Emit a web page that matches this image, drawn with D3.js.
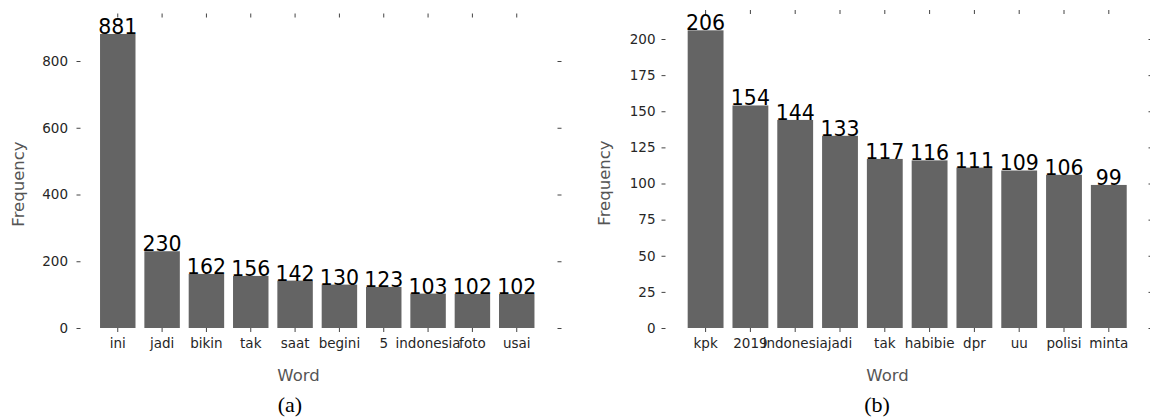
<!DOCTYPE html>
<html>
<head>
<meta charset="utf-8">
<script src="https://cdn.jsdelivr.net/npm/d3@7"></script>
<style>
  html, body { margin: 0; padding: 0; background: #fff; }
  svg { display: block; }
  .tick text { font-family: "DejaVu Sans", sans-serif; font-size: 13.5px; fill: #262626; }
  .tick line { stroke: #444; stroke-width: 1; }
  .domain { display: none; }
</style>
</head>
<body>
<svg id="chart" width="1150" height="417"></svg>
<script>
// Word frequencies, panel (a)
const wordsA = ["ini", "jadi", "bikin", "tak", "saat", "begini", "5", "indonesia", "foto", "usai"];
const freqA = [881, 230, 162, 156, 142, 130, 123, 103, 102, 102];
const yTicksA = [0, 200, 400, 600, 800];

// Word frequencies, panel (b)
const wordsB = ["kpk", "2019", "indonesia", "jadi", "tak", "habibie", "dpr", "uu", "polisi", "minta"];
const freqB = [206, 154, 144, 133, 117, 116, 111, 109, 106, 99];
const yTicksB = [0, 25, 50, 75, 100, 125, 150, 175, 200];

const svg = d3.select("#chart");
svg.append("rect").attr("width", 1150).attr("height", 417).attr("fill", "#fff");

function panel(cfg) {
  const g = svg.append("g");
  const x = d3.scaleBand().domain(cfg.words).range(cfg.xRange)
    .paddingInner(0.2).paddingOuter(0.1);
  const y = d3.scaleLinear().domain([0, cfg.yMax]).range([cfg.base, cfg.yTopPx]);

  // bars
  g.selectAll("rect.bar").data(cfg.words).join("rect")
    .attr("class", "bar")
    .attr("x", d => x(d))
    .attr("width", x.bandwidth())
    .attr("y", (d, i) => y(cfg.freq[i]))
    .attr("height", (d, i) => cfg.base - y(cfg.freq[i]))
    .attr("fill", "#646464");

  // value labels
  g.selectAll("text.val").data(cfg.words).join("text")
    .attr("class", "val")
    .attr("x", d => x(d) + x.bandwidth() / 2)
    .attr("y", (d, i) => y(cfg.freq[i]))
    .attr("text-anchor", "middle")
    .attr("font-family", "DejaVu Sans, sans-serif")
    .attr("font-size", 20.5)
    .attr("fill", "#000")
    .text((d, i) => cfg.freq[i]);

  // left axis
  g.append("g").attr("transform", `translate(${cfg.axisLeft},0)`)
    .call(d3.axisLeft(y).tickValues(cfg.yTicks).tickSize(4).tickPadding(cfg.yPad));
  // right axis (ticks only)
  g.append("g").attr("transform", `translate(${cfg.axisRight},0)`)
    .call(d3.axisRight(y).tickValues(cfg.yTicks).tickSize(4).tickFormat(""));
  // bottom axis
  g.append("g").attr("transform", `translate(0,${cfg.base})`)
    .call(d3.axisBottom(x).tickSize(4).tickPadding(6));
  // top axis (ticks only)
  g.append("g").attr("transform", `translate(0,${cfg.topTick})`)
    .call(d3.axisTop(x).tickSize(4).tickFormat(""));

  // axis titles
  g.append("text")
    .attr("transform", `translate(${cfg.yTitleX},${cfg.yTitleY}) rotate(-90)`)
    .attr("text-anchor", "middle")
    .attr("dominant-baseline", "central")
    .attr("font-family", "DejaVu Sans, sans-serif")
    .attr("font-size", 16.5)
    .attr("fill", "#555")
    .text("Frequency");
  g.append("text")
    .attr("x", cfg.xTitleX).attr("y", 381)
    .attr("text-anchor", "middle")
    .attr("font-family", "DejaVu Sans, sans-serif")
    .attr("font-size", 16.5)
    .attr("fill", "#555")
    .text("Word");
  // panel caption
  g.append("text")
    .attr("x", cfg.capX).attr("y", 412)
    .attr("text-anchor", "middle")
    .attr("font-family", "Liberation Serif, serif")
    .attr("font-size", 22)
    .attr("fill", "#000")
    .text(cfg.caption);
}

panel({
  words: wordsA, freq: freqA, yTicks: yTicksA,
  xRange: [95.6, 538.9], yMax: 800, base: 328, yTopPx: 61,
  axisLeft: 80.5, yPad: 8.5, axisRight: 557.5, topTick: 17.5,
  yTitleX: 18, yTitleY: 184, xTitleX: 298.5, capX: 290, caption: "(a)"
});

panel({
  words: wordsB, freq: freqB, yTicks: yTicksB,
  xRange: [683.2, 1131.2], yMax: 200, base: 328, yTopPx: 39,
  axisLeft: 665.5, yPad: 6, axisRight: 1148.5, topTick: 14,
  yTitleX: 604.5, yTitleY: 183, xTitleX: 887.5, capX: 877, caption: "(b)"
});
</script>
</body>
</html>
